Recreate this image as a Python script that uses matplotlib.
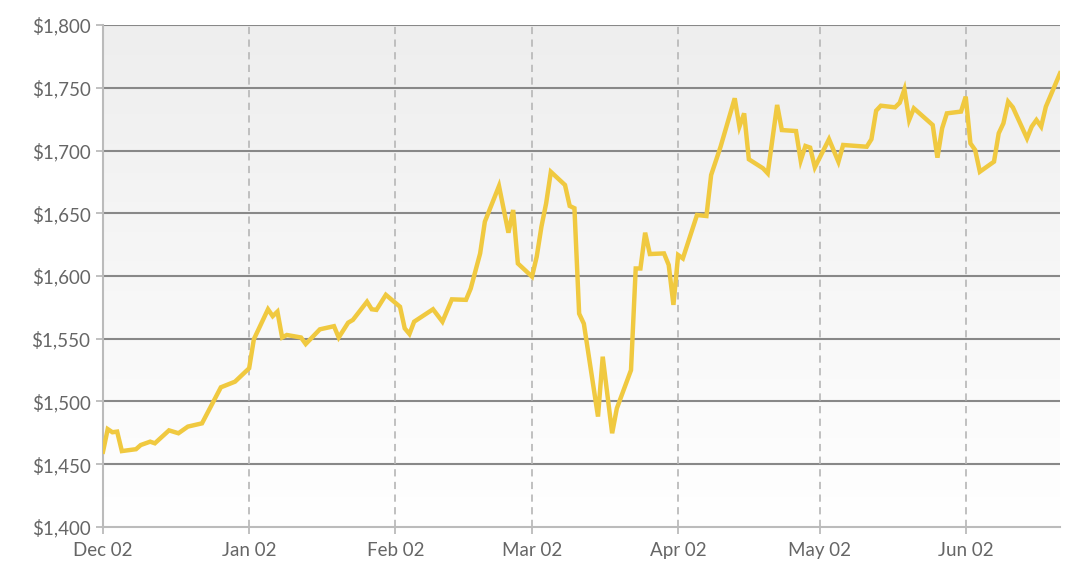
#!/usr/bin/env python3
"""
Gold price line chart, Dec 2019 - Jun 2020
"""

import numpy as np
import pandas as pd
import matplotlib
matplotlib.use('Agg')
import matplotlib.pyplot as plt
import matplotlib.dates as mdates
from matplotlib.ticker import FuncFormatter

dates = [
    '2019-12-02', '2019-12-03', '2019-12-04', '2019-12-05', '2019-12-06',
    '2019-12-09', '2019-12-10', '2019-12-12', '2019-12-13', '2019-12-16',
    '2019-12-18', '2019-12-20', '2019-12-23', '2019-12-27', '2019-12-30',
    '2020-01-02', '2020-01-03', '2020-01-06', '2020-01-07', '2020-01-08',
    '2020-01-09', '2020-01-10', '2020-01-13', '2020-01-14', '2020-01-17',
    '2020-01-20', '2020-01-21', '2020-01-23', '2020-01-24', '2020-01-27',
    '2020-01-28', '2020-01-29', '2020-01-31', '2020-02-03', '2020-02-04',
    '2020-02-05', '2020-02-06', '2020-02-10', '2020-02-12', '2020-02-14',
    '2020-02-17', '2020-02-18', '2020-02-20', '2020-02-21', '2020-02-24',
    '2020-02-26', '2020-02-27', '2020-02-28', '2020-03-02', '2020-03-03',
    '2020-03-04', '2020-03-05', '2020-03-06', '2020-03-09', '2020-03-10',
    '2020-03-11', '2020-03-12', '2020-03-13', '2020-03-16', '2020-03-17',
    '2020-03-19', '2020-03-20', '2020-03-23', '2020-03-24', '2020-03-25',
    '2020-03-26', '2020-03-27', '2020-03-30', '2020-03-31', '2020-04-01',
    '2020-04-02', '2020-04-03', '2020-04-06', '2020-04-08', '2020-04-09',
    '2020-04-11', '2020-04-14', '2020-04-15', '2020-04-16', '2020-04-17',
    '2020-04-20', '2020-04-21', '2020-04-23', '2020-04-24', '2020-04-27',
    '2020-04-28', '2020-04-29', '2020-04-30', '2020-05-01', '2020-05-04',
    '2020-05-06', '2020-05-07', '2020-05-12', '2020-05-13', '2020-05-14',
    '2020-05-15', '2020-05-18', '2020-05-19', '2020-05-20', '2020-05-21',
    '2020-05-22', '2020-05-26', '2020-05-27', '2020-05-28', '2020-05-29',
    '2020-06-01', '2020-06-02', '2020-06-03', '2020-06-04', '2020-06-05',
    '2020-06-08', '2020-06-09', '2020-06-10', '2020-06-11', '2020-06-12',
    '2020-06-15', '2020-06-16', '2020-06-17', '2020-06-18', '2020-06-19',
    '2020-06-22',
]

prices = [
    1460.0, 1478.0, 1475.5, 1476.0, 1460.5,
    1462.0, 1465.3, 1468.0, 1466.7, 1477.0,
    1474.7, 1480.0, 1482.6, 1511.3, 1515.8,
    1526.5, 1549.6, 1573.5, 1568.0, 1571.6,
    1551.0, 1553.0, 1551.0, 1545.8, 1557.5,
    1560.0, 1551.0, 1562.8, 1565.0, 1579.5,
    1573.5, 1573.0, 1585.0, 1575.5, 1558.3,
    1553.8, 1563.6, 1573.5, 1563.6, 1581.4,
    1581.0, 1590.0, 1618.0, 1643.3, 1671.7,
    1634.5, 1652.6, 1610.0, 1599.5, 1615.4,
    1639.3, 1657.9, 1683.0, 1672.5, 1655.8,
    1654.0, 1570.0, 1562.0, 1488.0, 1535.7,
    1474.7, 1494.6, 1525.0, 1606.0, 1606.0,
    1634.5, 1617.5, 1618.0, 1608.8, 1577.0,
    1616.7, 1614.0, 1648.6, 1647.8, 1680.5,
    1703.0, 1741.6, 1719.0, 1729.6, 1693.0,
    1685.8, 1681.8, 1736.3, 1716.3, 1715.5,
    1692.0, 1703.6, 1702.3, 1686.6, 1709.0,
    1691.0, 1704.4, 1703.0, 1709.0, 1731.7,
    1735.7, 1734.4, 1738.0, 1748.7, 1724.3,
    1733.6, 1720.3, 1694.3, 1717.7, 1729.6,
    1731.0, 1742.9, 1705.7, 1700.4, 1683.1,
    1691.1, 1713.7, 1721.7, 1738.9, 1734.4,
    1709.7, 1719.0, 1724.3, 1719.0, 1734.9,
    1761.5,
]

x_ticks = ['2019-12-02', '2020-01-02', '2020-02-02', '2020-03-02',
           '2020-04-02', '2020-05-02', '2020-06-02']
y_ticks = [1400, 1450, 1500, 1550, 1600, 1650, 1700, 1750, 1800]

plt.rcParams['font.family'] = ['Lato', 'DejaVu Sans']

fig = plt.figure(figsize=(10.9, 5.81), dpi=100)
ax = fig.add_axes([103 / 1090, 54 / 581, 957 / 1090, 502 / 581])

# background gradient, light gray on top fading to white
grad = np.linspace(0, 1, 256).reshape(-1, 1)
cmap = matplotlib.colors.LinearSegmentedColormap.from_list(
    'bg', ['#eeeeee', '#ffffff'])
ax.imshow(grad, cmap=cmap, aspect='auto', extent=[0, 1, 0, 1],
          transform=ax.transAxes, zorder=0)

x = pd.to_datetime(dates)
ax.plot(x, prices, color='#f0c940', lw=3.2, solid_joinstyle='miter',
        zorder=3)

ax.set_xlim(pd.Timestamp('2019-12-02'), pd.Timestamp('2020-06-22'))
ax.set_ylim(1400, 1800)

ax.set_yticks(y_ticks)
ax.yaxis.set_major_formatter(FuncFormatter(lambda v, p: '${:,.0f}'.format(v)))
ax.set_xticks(pd.to_datetime(x_ticks))
ax.xaxis.set_major_formatter(mdates.DateFormatter('%b %d'))

for v in y_ticks[1:]:
    ax.axhline(v, color='#888888', lw=1.5, zorder=1)
for d in x_ticks[1:]:
    ax.axvline(pd.Timestamp(d), color='#bbbbbb', lw=1.3,
               ls=(0, (4, 3)), zorder=1)

for side in ['top', 'right']:
    ax.spines[side].set_visible(False)
for side in ['left', 'bottom']:
    ax.spines[side].set_color('#bbbbbb')
    ax.spines[side].set_linewidth(1.5)

ax.tick_params(axis='both', colors='#bbbbbb', length=5, width=1.3,
               labelcolor='#666666', labelsize=13.5)
ax.tick_params(axis='y', pad=4)
ax.tick_params(axis='x', pad=6)

plt.savefig('out.png', dpi=100)
